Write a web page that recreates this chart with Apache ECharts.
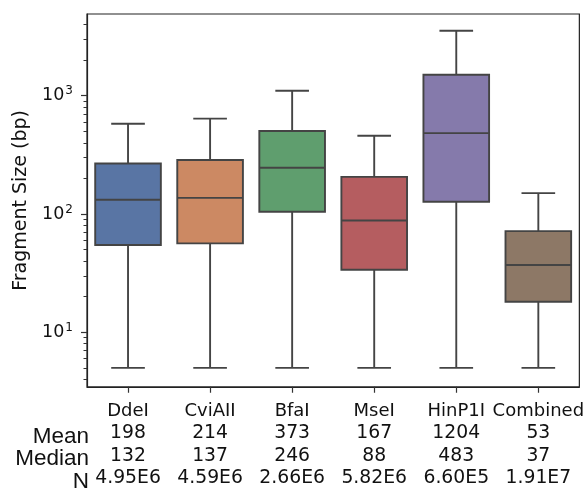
<!DOCTYPE html>
<html>
<head>
<meta charset="utf-8">
<script src="https://cdn.jsdelivr.net/npm/echarts@6/dist/echarts.min.js"></script>
<style>
  html, body { margin: 0; padding: 0; background: #fff; }
  #chart { width: 587px; height: 488px; }
</style>
</head>
<body>
<div id="chart"></div>
<script>
  // enzyme groups along the x axis
  const categories = ['DdeI', 'CviAII', 'BfaI', 'MseI', 'HinP1I', 'Combined']

  // box plot summary (bp)
  const whiskerLow = [5, 5, 5, 5, 5, 5]
  const q1 = [54.6, 56.4, 104.5, 33.8, 127, 18.1]
  const q3 = [267, 286, 503, 206, 1504, 71.6]
  const whiskerHigh = [580, 640, 1102, 459, 3540, 150]

  // stats table printed under the axis
  const means = [198, 214, 373, 167, 1204, 53]
  const medians = [132, 137, 246, 88, 483, 37]
  const counts = ['4.95E6', '4.59E6', '2.66E6', '5.82E6', '6.60E5', '1.91E7']
  const rowNames = ['Mean', 'Median', 'N']

  // y ticks
  const majorTicks = [10, 100, 1000]
  const minorTicks = [4, 5, 6, 7, 8, 9, 20, 30, 40, 50, 60, 70, 80, 90,
    200, 300, 400, 500, 600, 700, 800, 900, 2000, 3000, 4000]

  const colors = ['#5975a4', '#cc8963', '#5f9e6e', '#b55d60', '#857aab', '#8d7866']
  const edge = '#444'
  const yMin = 3.46
  const yMax = 4912

  const boxData = categories.map((c, i) => [i, whiskerLow[i], q1[i], medians[i], q3[i], whiskerHigh[i]])

  function renderBox(params, api) {
    const idx = api.value(0)
    const band = api.size([1, 0])[0]
    const boxW = band * 0.8
    const capW = band * 0.41
    const x = api.coord([idx, 1])[0]
    const yLow = api.coord([idx, api.value(1)])[1]
    const yQ1 = api.coord([idx, api.value(2)])[1]
    const yMed = api.coord([idx, api.value(3)])[1]
    const yQ3 = api.coord([idx, api.value(4)])[1]
    const yHigh = api.coord([idx, api.value(5)])[1]
    const line = { stroke: edge, lineWidth: 1.9 }
    return {
      type: 'group',
      children: [
        { type: 'line', shape: { x1: x, y1: yQ1, x2: x, y2: yLow }, style: line },
        { type: 'line', shape: { x1: x, y1: yQ3, x2: x, y2: yHigh }, style: line },
        { type: 'line', shape: { x1: x - capW / 2, y1: yLow, x2: x + capW / 2, y2: yLow }, style: line },
        { type: 'line', shape: { x1: x - capW / 2, y1: yHigh, x2: x + capW / 2, y2: yHigh }, style: line },
        {
          type: 'rect',
          shape: { x: x - boxW / 2, y: yQ3, width: boxW, height: yQ1 - yQ3 },
          style: { fill: colors[idx], stroke: edge, lineWidth: 1.9 }
        },
        { type: 'line', shape: { x1: x - boxW / 2, y1: yMed, x2: x + boxW / 2, y2: yMed }, style: line }
      ]
    }
  }

  const chart = echarts.init(document.getElementById('chart'))
  chart.setOption({
    animation: false,
    grid: {
      left: 87, right: 7, top: 14, bottom: 100,
      show: true, borderColor: '#222', borderWidth: 1.2, backgroundColor: 'transparent'
    },
    xAxis: {
      type: 'category',
      data: categories,
      axisLine: { lineStyle: { color: '#222', width: 1.2 } },
      axisTick: { show: true, alignWithLabel: true, length: 6, lineStyle: { color: '#333', width: 1.2 } },
      axisLabel: {
        interval: 0,
        margin: 13,
        fontFamily: 'DejaVu Sans',
        color: '#111',
        formatter: (value, i) =>
          '{c|' + value + '}\n{v|' + means[i] + '}\n{v|' + medians[i] + '}\n{v|' + counts[i] + '}',
        rich: {
          c: { fontSize: 18, lineHeight: 22.5, fontFamily: 'DejaVu Sans', color: '#111' },
          v: { fontSize: 18.8, lineHeight: 22.5, fontFamily: 'DejaVu Sans', color: '#111' }
        }
      }
    },
    yAxis: [
      {
        type: 'log',
        min: yMin,
        max: yMax,
        name: 'Fragment Size (bp)',
        nameLocation: 'middle',
        nameGap: 56,
        nameTextStyle: { fontSize: 19, fontFamily: 'DejaVu Sans', color: '#111' },
        splitLine: { show: false },
        axisLine: { show: true, lineStyle: { color: '#222', width: 1.2 } },
        axisTick: { show: true, customValues: majorTicks, length: 6, lineStyle: { color: '#333', width: 1.2 } },
        axisLabel: {
          customValues: majorTicks,
          margin: 14,
          formatter: v => '{b|10}{s|' + Math.round(Math.log10(v)) + '}',
          rich: {
            b: { fontSize: 17.5, fontFamily: 'DejaVu Sans', color: '#111' },
            s: { fontSize: 12, fontFamily: 'DejaVu Sans', color: '#111', verticalAlign: 'top', padding: [0, 0, 9, 1] }
          }
        }
      },
      {
        type: 'log',
        min: yMin,
        max: yMax,
        position: 'left',
        splitLine: { show: false },
        axisLine: { show: false },
        axisLabel: { show: false },
        axisTick: { show: true, customValues: minorTicks, length: 3.5, lineStyle: { color: '#333', width: 1 } }
      }
    ],
    graphic: rowNames.map((t, i) => ({
      type: 'text',
      right: 587 - 89,
      top: 425 + i * 22.5,
      style: { text: t, font: '22.5px "Liberation Sans"', fill: '#111' }
    })),
    series: [{
      type: 'custom',
      renderItem: renderBox,
      encode: { x: 0, y: [1, 2, 3, 4, 5] },
      data: boxData
    }]
  })
</script>
</body>
</html>
